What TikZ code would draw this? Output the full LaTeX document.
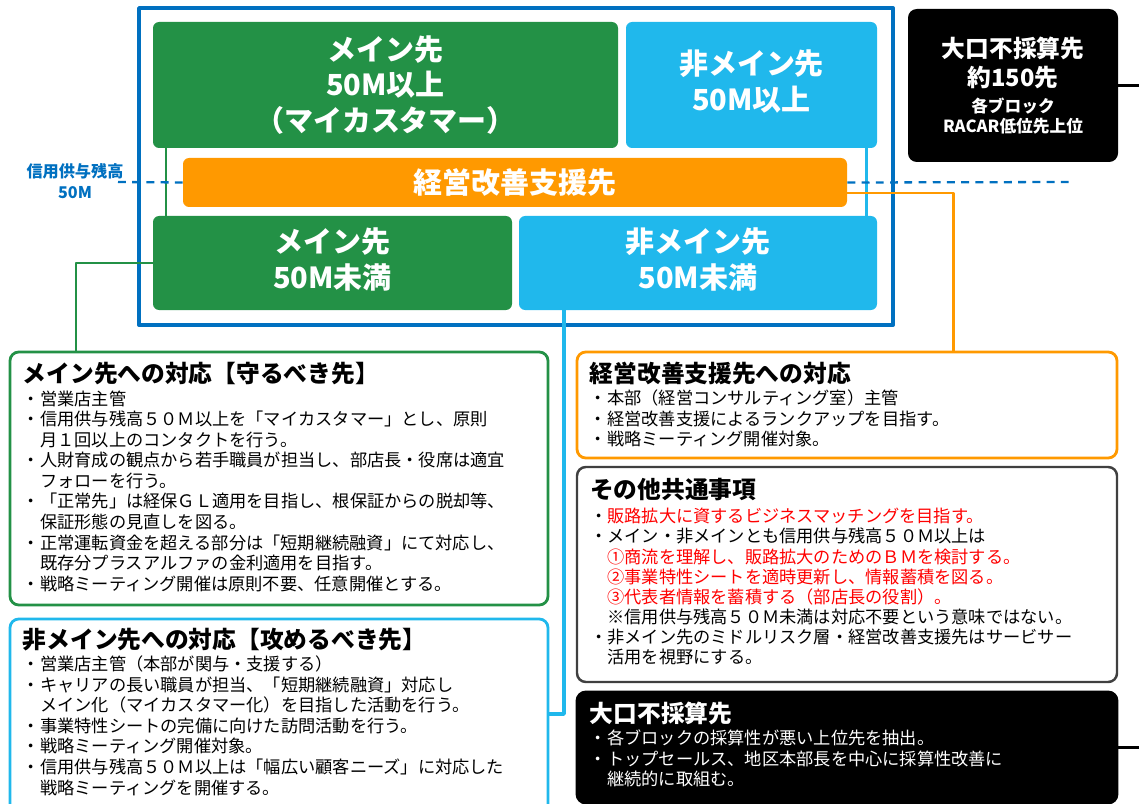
\documentclass[tikz,border=0pt]{standalone}
\usepackage{fontspec}
\setmainfont{Noto Sans CJK JP}
\usetikzlibrary{positioning,fit}
\definecolor{myblue}{RGB}{0,112,192}
\definecolor{mygreen}{RGB}{35,145,70}
\definecolor{mycyan}{RGB}{32,184,236}
\definecolor{myorange}{RGB}{255,153,0}
\definecolor{mygray}{RGB}{64,64,64}
\definecolor{myred}{RGB}{255,0,0}
\newcommand{\ind}{\phantom{・}}

\begin{document}
\begin{tikzpicture}[x=0.02cm,y=0.02cm,line join=round]
  \tikzstyle{tile}=[draw=none,rounded corners=3.5pt,inner sep=0pt,align=center,text=white,font=\fontsize{16.5}{20.4}\selectfont\bfseries]
  \tikzstyle{panel}=[rounded corners=5pt,line width=1.6pt,inner sep=0pt]
  \tikzstyle{ttl}=[anchor=north west,inner sep=0pt,font=\fontsize{13.5}{15}\selectfont\bfseries]
  \tikzstyle{body}=[inner sep=0pt,align=left,font=\fontsize{9.8}{11.7}\selectfont]
  \tikzstyle{link}=[line width=1.7pt]

  \useasboundingbox (0,0) rectangle (1139,-804);

  \node[draw=myblue,line width=2.2pt,inner sep=0pt,fit={(139,-8)(893,-325)}] (frame) {};
  \node[tile,fill=mygreen,fit={(153,-22)(618,-148)}] (m1) {};
  \node[tile,fill=mycyan,fit={(626,-22)(877,-148)}] (n1) {};
  \node[tile,fill=myorange,fit={(183,-158)(847,-207)}] (ob) {};
  \node[tile,fill=mygreen,fit={(153,-216)(512,-310)}] (m2) {};
  \node[tile,fill=mycyan,fit={(519,-216)(877,-310)}] (n2) {};
  \node[tile,fill=black,rounded corners=5pt,fit={(908,-9)(1118,-162)}] (bk1) {};

  \node[tile] (m1t) at (m1) {メイン先\\50M以上\\（マイカスタマー）};
  \node[tile] (n1t) at ([yshift=2pt]n1) {非メイン先\\50M以上};
  \node[tile] (obt) at (ob) {経営改善支援先};
  \node[tile] (m2t) at ([yshift=2pt]m2) {メイン先\\50M未満};
  \node[tile] (n2t) at ([yshift=2pt]n2) {非メイン先\\50M未満};
  \node[tile,font=\fontsize{13.5}{16.5}\selectfont\bfseries] (bk1t) at (bk1)
    {大口不採算先\\約150先\\[-1.7pt]{\fontsize{9.5}{11.3}\selectfont 各ブロック}\\[-5pt]{\fontsize{9.5}{11.3}\selectfont RACAR低位先上位}};

  \node[font=\fontsize{9.2}{12.4}\selectfont\bfseries,text=myblue,align=center] (lim) at (75,-181) {信用供与残高\\50M};

  \node[panel,draw=mygreen,fit={(10,-352)(548,-605)}] (gp) {};
  \node[ttl] (gt) at ([shift={(14,-11)}]gp.north west) {メイン先への対応【守るべき先】};
  \node[body,below=3pt of gt.south west,anchor=north west] (gb) {・営業店主管\\
    ・信用供与残高５０Ｍ以上を「マイカスタマー」とし、原則\\
    \ind 月１回以上のコンタクトを行う。\\
    ・人財育成の観点から若手職員が担当し、部店長・役席は適宜\\
    \ind フォローを行う。\\
    ・「正常先」は経保ＧＬ適用を目指し、根保証からの脱却等、\\
    \ind 保証形態の見直しを図る。\\
    ・正常運転資金を超える部分は「短期継続融資」にて対応し、\\
    \ind 既存分プラスアルファの金利適用を目指す。\\
    ・戦略ミーティング開催は原則不要、任意開催とする。};

  \node[panel,draw=mycyan,fit={(10,-619)(548,-815)}] (cp) {};
  \node[ttl] (ct) at ([shift={(14,-10)}]cp.north west) {非メイン先への対応【攻めるべき先】};
  \node[body,below=2.5pt of ct.south west,anchor=north west] (cb) {・営業店主管（本部が関与・支援する）\\
    ・キャリアの長い職員が担当、「短期継続融資」対応し\\
    \ind メイン化（マイカスタマー化）を目指した活動を行う。\\
    ・事業特性シートの完備に向けた訪問活動を行う。\\
    ・戦略ミーティング開催対象。\\
    ・信用供与残高５０Ｍ以上は「幅広い顧客ニーズ」に対応した\\
    \ind 戦略ミーティングを開催する。};

  \node[panel,draw=myorange,fit={(577,-352)(1117,-458)}] (op) {};
  \node[ttl] (ot) at ([shift={(14,-11)}]op.north west) {経営改善支援先への対応};
  \node[body,below=2.5pt of ot.south west,anchor=north west] (obd) {・本部（経営コンサルティング室）主管\\
    ・経営改善支援によるランクアップを目指す。\\
    ・戦略ミーティング開催対象。};

  \node[panel,draw=mygray,line width=1.4pt,fit={(577,-467)(1117,-682)}] (xp) {};
  \node[ttl] (xt) at ([shift={(14,-12)}]xp.north west) {その他共通事項};
  \node[body,below=4pt of xt.south west,anchor=north west,font=\fontsize{9.8}{11.4}\selectfont] (xb) {・\textcolor{myred}{販路拡大に資するビジネスマッチングを目指す。}\\
    ・メイン・非メインとも信用供与残高５０Ｍ以上は\\
    \ind\textcolor{myred}{①商流を理解し、販路拡大のためのＢＭを検討する。}\\
    \ind\textcolor{myred}{②事業特性シートを適時更新し、情報蓄積を図る。}\\
    \ind\textcolor{myred}{③代表者情報を蓄積する（部店長の役割）。}\\
    \ind ※信用供与残高５０Ｍ未満は対応不要という意味ではない。\\
    ・非メイン先のミドルリスク層・経営改善支援先はサービサー\\
    \ind 活用を視野にする。};

  \node[panel,draw=black,fill=black,fit={(577,-692)(1117,-803)}] (bk2) {};
  \node[ttl,text=white] (bt) at ([shift={(14,-11)}]bk2.north west) {大口不採算先};
  \node[body,text=white,below=2.5pt of bt.south west,anchor=north west] (bb) {・各ブロックの採算性が悪い上位先を抽出。\\
    ・トップセールス、地区本部長を中心に採算性改善に\\
    \ind 継続的に取組む。};

  \coordinate (gv) at (166,0);
  \coordinate (cv) at (866,0);
  \coordinate (gc) at (76,-263);
  \coordinate (oc) at (953,-193);
  \coordinate (cc) at (564,-714);
  \coordinate (dl) at (118,-182);
  \coordinate (dr) at (1075,-182);
  \coordinate (edge) at (1139,0);

  \draw[link,mygreen] (m1.south -| gv) -- (m2.north -| gv);
  \draw[link,mycyan] (n1.south -| cv) -- (n2.north -| cv);
  \draw[link,mygreen] (m2.west) -- (gc) -- (gc |- gp.north);
  \draw[link,mycyan,line width=2pt] (n2.south -| cc) -- (cc) -- (cc -| cp.east);
  \draw[link,myorange] (ob.east |- oc) -- (oc) -- (oc |- op.north);
  \draw[myblue,line width=1.3pt,dash pattern=on 4.5pt off 3.6pt] (dl) -- (ob.west);
  \draw[myblue,line width=1.3pt,dash pattern=on 4.5pt off 3.6pt] (ob.east) -- (dr);
  \draw[line width=1.2pt] (bk1.east) -- (bk1.east -| edge);
  \draw[line width=1.2pt] (bk2.east) -- (bk2.east -| edge);
\end{tikzpicture}
\end{document}
